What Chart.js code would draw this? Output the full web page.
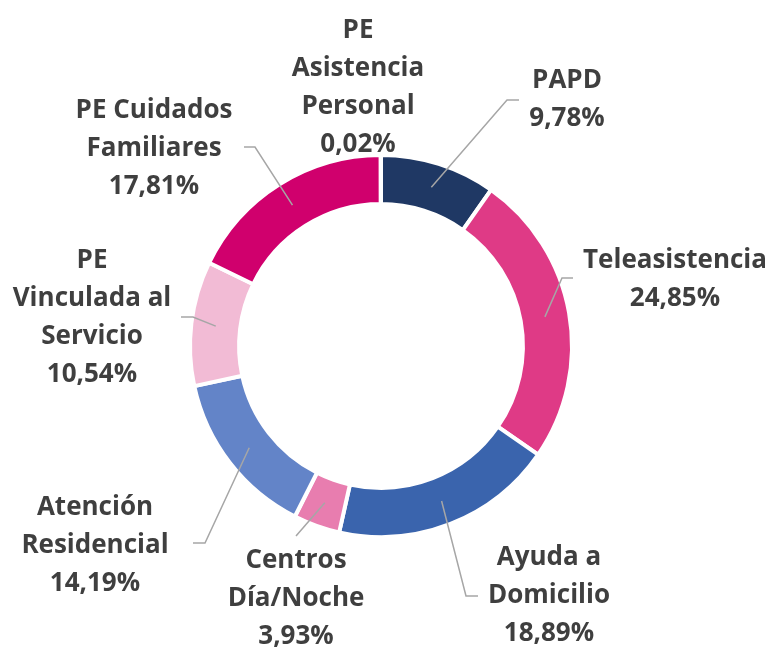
<!DOCTYPE html>
<html>
<head>
<meta charset="utf-8">
<script src="https://cdn.jsdelivr.net/npm/chart.js@4"></script>
<style>
  html, body { margin: 0; padding: 0; background: #ffffff; }
  #wrap { width: 768px; height: 651px; }
</style>
</head>
<body>
<div id="wrap"><canvas id="myChart" width="768" height="651"></canvas></div>
<script>
// categories (multi-line, as wrapped in the original)
const categories = [
    ['PAPD'],
    ['Teleasistencia'],
    ['Ayuda a', 'Domicilio'],
    ['Centros', 'Día/Noche'],
    ['Atención', 'Residencial'],
    ['PE', 'Vinculada al', 'Servicio'],
    ['PE Cuidados', 'Familiares'],
    ['PE', 'Asistencia', 'Personal']
];
const shares = [9.78, 24.85, 18.89, 3.93, 14.19, 10.54, 17.81, 0.02];
const sliceColors = ['#1F3864', '#DF3A86', '#3A64AD', '#E87DAF', '#6384C8', '#F2BBD5', '#D0006D', '#8EA9DB'];

// label placement, offsets from the chart centre (layout only)
const labelPos = [
    { x: 186, y: -265 },
    { x: 294, y: -85 },
    { x: 168, y: 212 },
    { x: -85, y: 215 },
    { x: -286, y: 162 },
    { x: -289, y: -85 },
    { x: -227, y: -235 },
    { x: -23, y: -315 }
];
// leader lines: elbow point and end of short horizontal, offsets from centre
const leaders = [
    { ex: 126, ey: -246, hx: 138 },
    { ex: 181, ey: -68, hx: 192 },
    { ex: 85, ey: 250, hx: 97 },
    { ex: -85, ey: 190, hx: -85 },
    { ex: -176, ey: 197, hx: -188 },
    { ex: -188, ey: -29, hx: -200 },
    { ex: -126, ey: -199, hx: -137 },
    null
];

const outsideLabels = {
    id: 'outsideLabels',
    afterDatasetsDraw(chart) {
        const ctx = chart.ctx;
        const arcs = chart.getDatasetMeta(0).data;
        const lineH = 38;
        ctx.save();
        arcs.forEach(function(arc, i) {
            const p = arc.getProps(['x', 'y', 'startAngle', 'endAngle', 'innerRadius', 'outerRadius'], true);
            const cx = p.x, cy = p.y;
            const lead = leaders[i];
            if (lead) {
                const mid = (p.startAngle + p.endAngle) / 2;
                const r = (p.innerRadius + p.outerRadius) / 2;
                ctx.beginPath();
                ctx.moveTo(cx + Math.cos(mid) * r, cy + Math.sin(mid) * r);
                ctx.lineTo(cx + lead.ex, cy + lead.ey);
                ctx.lineTo(cx + lead.hx, cy + lead.ey);
                ctx.strokeStyle = '#A6A6A6';
                ctx.lineWidth = 1.5;
                ctx.stroke();
            }
            const lines = categories[i].concat([shares[i].toFixed(2).replace('.', ',') + '%']);
            ctx.fillStyle = '#3F3F3F';
            ctx.font = 'bold 26px "Open Sans", sans-serif';
            ctx.textAlign = 'center';
            ctx.textBaseline = 'middle';
            lines.forEach(function(t, k) {
                ctx.fillText(t, cx + labelPos[i].x, cy + labelPos[i].y + k * lineH);
            });
        });
        ctx.restore();
    }
};

document.addEventListener('DOMContentLoaded', function() {
    const data = {
        labels: categories,
        datasets: [{
            data: shares,
            backgroundColor: sliceColors,
            borderColor: '#ffffff',
            borderWidth: 4
        }]
    };

    const config = {
        type: 'doughnut',
        data: data,
        options: {
            responsive: false,
            animation: false,
            cutout: '74.3%',
            rotation: 0,
            layout: {
                padding: { left: 188, right: 194, top: 153, bottom: 112 }
            },
            plugins: {
                legend: { display: false },
                tooltip: { enabled: false }
            }
        },
        plugins: [outsideLabels]
    };

    const ctx = document.getElementById('myChart').getContext('2d');
    new Chart(ctx, config);
});
</script>
</body>
</html>
